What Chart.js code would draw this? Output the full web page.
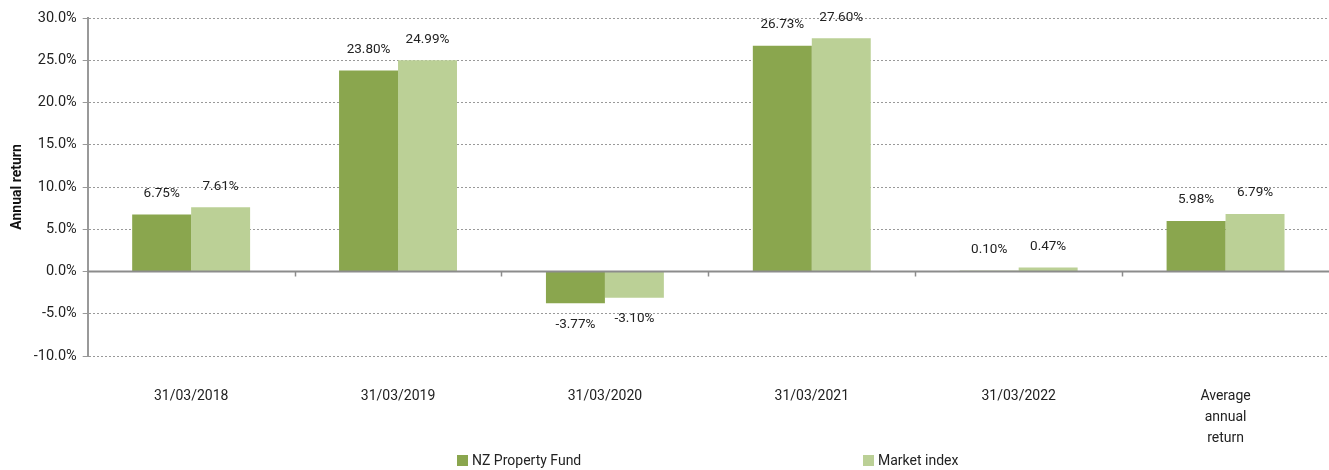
<!DOCTYPE html>
<html lang="en">
<head>
<meta charset="UTF-8" />
<title>Annual return</title>
<script src="https://cdn.jsdelivr.net/npm/chart.js"></script>
<style>
  html, body { margin: 0; background: #fff; font-family: Roboto, sans-serif; overflow: hidden; }
  #wrap { position: relative; width: 1329px; height: 470px; overflow: hidden; }
  #box { position: absolute; left: 0; top: 0; width: 1329px; height: 471px; }
  .leg { position: absolute; top: 452px; font-size: 14px; color: #222; display: flex; align-items: center; }
  .leg span { display: inline-block; width: 11px; height: 11px; margin-right: 4px; }
</style>
</head>
<body>
<div id="wrap">
  <div id="box"><canvas id="grafica"></canvas></div>
  <div class="leg" style="left:457px"><span style="background:#8AA64E"></span>NZ Property Fund</div>
  <div class="leg" style="left:863px"><span style="background:#BBD096"></span>Market index</div>
</div>

<script>
  const categorias = ["31/03/2018", "31/03/2019", "31/03/2020", "31/03/2021", "31/03/2022", ["Average", "annual", "return"]];
  const fondo = [6.75, 23.80, -3.77, 26.73, 0.10, 5.98];
  const indice = [7.61, 24.99, -3.10, 27.60, 0.47, 6.79];

  // etiquetas de valor y linea del cero con sus marcas
  const extras = {
    id: "extras",
    afterDatasetsDraw(chart) {
      const ctx = chart.ctx;
      const x = chart.scales.x, y = chart.scales.y;
      const y0 = y.getPixelForValue(0);
      ctx.save();
      ctx.strokeStyle = "#8c8c8c";
      ctx.lineWidth = 2;
      ctx.beginPath();
      ctx.moveTo(x.left, y0);
      ctx.lineTo(x.right, y0);
      ctx.stroke();
      ctx.lineWidth = 1.5;
      const n = categorias.length;
      for (let i = 1; i < n; i++) {
        const px = Math.round(x.left + i * (x.right - x.left) / n) + 0.5;
        ctx.beginPath();
        ctx.moveTo(px, y0);
        ctx.lineTo(px, y0 + 5);
        ctx.stroke();
      }
      ctx.font = "13.5px Roboto";
      ctx.fillStyle = "#222";
      ctx.textAlign = "center";
      ctx.textBaseline = "middle";
      chart.data.datasets.forEach((ds, di) => {
        chart.getDatasetMeta(di).data.forEach((bar, i) => {
          const v = ds.data[i];
          const ty = v >= 0 ? bar.y - 21 : bar.y + 21;
          ctx.fillText(v.toFixed(2) + "%", bar.x, ty);
        });
      });
      ctx.restore();
    }
  };

  new Chart(document.getElementById("grafica"), {
    type: "bar",
    data: {
      labels: categorias,
      datasets: [
        { label: "NZ Property Fund", data: fondo, backgroundColor: "#8AA64E" },
        { label: "Market index", data: indice, backgroundColor: "#BBD096" }
      ]
    },
    options: {
      responsive: true,
      maintainAspectRatio: false,
      animation: false,
      layout: { padding: { top: 18, right: 0, left: 7, bottom: 0 } },
      plugins: { legend: { display: false }, tooltip: { enabled: false } },
      datasets: { bar: { categoryPercentage: 0.57, barPercentage: 1 } },
      scales: {
        x: {
          grid: { display: false },
          border: { display: false },
          ticks: { padding: 22, color: "#222", font: { family: "Roboto", size: 14, lineHeight: 1.5 }, maxRotation: 0 }
        },
        y: {
          min: -10,
          max: 30,
          ticks: {
            stepSize: 5,
            color: "#222",
            padding: 6,
            font: { family: "Roboto", size: 14.5 },
            callback: v => v.toFixed(1) + "%"
          },
          grid: { color: "#999", lineWidth: 1, tickLength: 5, tickColor: "#999" },
          border: { color: "#999", width: 2, dash: [2, 2] },
          title: { display: true, text: "Annual return", color: "#111", font: { family: "Roboto", size: 14, weight: "bold" }, padding: 2 }
        }
      }
    },
    plugins: [extras]
  });
</script>
</body>
</html>
